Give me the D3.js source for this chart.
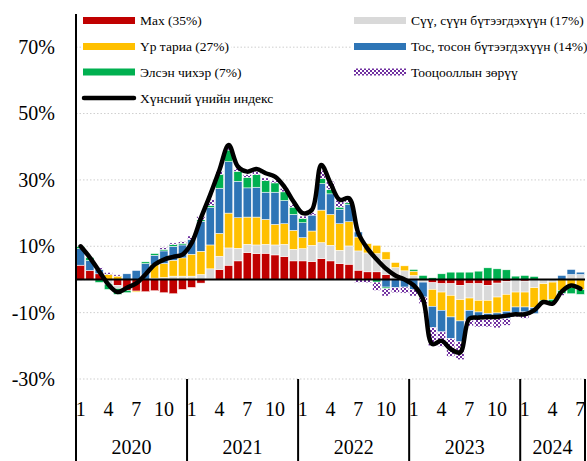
<!DOCTYPE html>
<html><head><meta charset="utf-8">
<script src="https://cdn.jsdelivr.net/npm/d3@7"></script>
<style>
body{margin:0;background:#fff;}
svg{display:block;font-family:"Liberation Serif","Times New Roman","DejaVu Serif",serif;}
</style>
</head><body>
<svg id="c" width="587" height="461"></svg>
<script>
// ---------- DATA ----------
const categories = [
"2020-1","2020-2","2020-3","2020-4","2020-5","2020-6","2020-7","2020-8","2020-9","2020-10","2020-11","2020-12",
"2021-1","2021-2","2021-3","2021-4","2021-5","2021-6","2021-7","2021-8","2021-9","2021-10","2021-11","2021-12",
"2022-1","2022-2","2022-3","2022-4","2022-5","2022-6","2022-7","2022-8","2022-9","2022-10","2022-11","2022-12",
"2023-1","2023-2","2023-3","2023-4","2023-5","2023-6","2023-7","2023-8","2023-9","2023-10","2023-11","2023-12",
"2024-1","2024-2","2024-3","2024-4","2024-5","2024-6","2024-7"];
const years = ["2020","2021","2022","2023","2024"];
const monthTicks = ["1","4","7","10"];
const yTicks = [-30,-10,10,30,50,70];

const meat = [
 4.3, 2.7, 1.7, 0, -1.8, -3.3, -3.5, -3.7, -3.4, -4.0, -4.3, -3.0,
 -2.4, -1.1, 0.3, 3.0, 4.3, 5.6, 8.1, 7.8, 7.9, 7.4, 6.9, 5.6,
 5.6, 5.4, 6.3, 5.6, 4.8, 4.6, 2.8, 2.3, 2.3, 1.5, 0, 0,
 0, 0, -1.0, -1.3, -1.3, -1.8, -1.3, -1.3, -1.8, -1.1, -0.6, 0,
 -0.5, 0, 0, 0, 0, 0, 0];
const milk = [
 0, 0, 0, -1.4, -0.9, 0, 0, 0, 0.4, 0.6, 1.0, 1.0,
 1.0, 1.5, 2.9, 4.0, 5.2, 3.8, 2.5, 2.6, 2.7, 3.0, 3.7, 3.5,
 3.7, 4.9, 4.8, 4.7, 4.0, 5.5, 5.8, 5.7, 5.5, 4.5, 3.6, 2.6,
 1.2, -0.8, -2.0, -2.5, -3.5, -4.3, -4.3, -5.0, -4.5, -4.2, -3.9, -3.8,
 -3.3, -2.5, -1.3, -0.8, 0, 1.5, 1.5];
const grain = [
 0, 0, 0, 1.5, 1.0, 0, -0.3, 0, 4.0, 4.2, 4.8, 5.5,
 6.6, 7.0, 7.2, 6.9, 10.5, 9.2, 8.2, 8.4, 7.5, 6.2, 6.2, 5.7,
 3.3, 4.3, 9.8, 9.3, 8.0, 7.3, 4.2, 2.8, 2.5, 2.3, 1.5, 1.5,
 1.3, 0, -5.1, -5.5, -6.5, -6.4, -3.7, -3.5, -4.0, -4.8, -5.1, -4.5,
 -4.5, -6.0, -5.0, -5.2, -3.3, -2.5, -3.1];
const oil = [
 5.0, 3.0, 1.3, 0, 0, 1.7, 2.7, 4.8, 2.9, 3.8, 4.2, 3.9,
 4.5, 9.0, 11.3, 13.6, 15.5, 11.0, 8.8, 9.0, 8.2, 9.7, 7.0, 4.8,
 4.5, 4.8, 8.0, 6.2, 4.3, 5.2, 1.5, 0, 0, -2.3, -2.5, -2.3,
 -3.0, -4.5, -6.4, -6.5, -6.5, -6.3, -3.0, -2.0, -1.0, -0.7, -2.2, -1.8,
 -1.5, -1.8, 0, 0, 1.2, 1.5, 0.7];
const sugar = [
 0.6, 0.9, -0.9, -1.6, -1.8, -0.7, 0, 0.5, 0.5, 0.5, 0.5, 0.5,
 0, 0.5, 0.6, 4.2, 3.5, 3.0, 3.2, 3.8, 3.5, 2.8, 2.6, 2.2,
 1.3, 0, 1.5, 1.3, 0.7, 0.5, 0, 0, -0.8, -0.5, 0, 0,
 0.5, 1.2, 0.5, 1.7, 2.2, 2.2, 2.2, 2.5, 3.5, 3.2, 2.9, 1.0,
 1.2, 0.9, -1.0, -1.0, -1.0, -1.8, -1.4];
const resid = [
 -0.2, 0, 0.5, 0.6, 0.4, 0, 0, 0, 0, 0.5, 0.5, 0.5,
 1.0, 1.0, 1.8, 0.8, 0.8, 0.8, 0.8, 1.0, 0.8, 0.7, 1.0, 0.8,
 0.7, 0.7, 2.5, 2.5, 2.0, 1.0, -0.9, -1.0, -2.5, -2.2, -1.5, -1.8,
 -2.0, -2.0, -5.5, -4.4, -5.4, -5.4, -1.7, -2.5, -3.0, -3.8, -2.0, -1.2,
 -1.9, 0, 0, -0.3, -0.5, 0, 0];
const foodIndex = [
 10.0, 6.6, 2.5, -1.5, -3.8, -2.5, -1.2, 1.5, 4.5, 6.0, 6.8, 7.5,
 11.0, 18.5, 25.5, 33.0, 40.5, 34.0, 32.5, 33.3, 32.0, 31.0, 28.0, 23.5,
 20.0, 21.0, 34.5, 29.0, 24.0, 24.5, 14.0, 9.3, 6.0, 3.2, 1.2, 0.0,
 -1.8, -6.0, -19.5, -18.5, -21.0, -22.0, -11.8, -11.5, -11.3, -11.3, -10.9, -10.5,
 -10.5, -9.3, -6.8, -7.3, -3.6, -1.8, -2.8];

const seriesNames = {
  meat: "Мах (35%)", milk: "Сүү, сүүн бүтээгдэхүүн (17%)", grain: "Үр тариа (27%)",
  oil: "Тос, тосон бүтээгдэхүүн (14%)", sugar: "Элсэн чихэр (7%)", resid: "Тооцооллын зөрүү"
};
const lineName = "Хүнсний үнийн индекс";

// ---------- CHART ----------
(function(){
const FONT = "Liberation Serif, Times New Roman, DejaVu Serif, serif";
const svg = d3.select("#c");
const keys = ["meat","milk","grain","oil","sugar","resid"];
const src = {meat, milk, grain, oil, sugar, resid};
const table = categories.map((c,i)=>{ const r={cat:c}; keys.forEach(k=>r[k]=src[k][i]); return r; });

const colors = {meat:"#C00000", milk:"#D9D9D9", grain:"#FFC000", oil:"#2E75B6", sugar:"#00B050", resid:"url(#chk)"};

const defs = svg.append("defs");
const pat = defs.append("pattern").attr("id","chk").attr("width",4).attr("height",4).attr("patternUnits","userSpaceOnUse");
pat.append("rect").attr("width",4).attr("height",4).attr("fill","#fff");
pat.append("rect").attr("x",0).attr("y",0).attr("width",2).attr("height",2).attr("fill","#7030A0");
pat.append("rect").attr("x",2).attr("y",2).attr("width",2).attr("height",2).attr("fill","#7030A0");

const pL = 76, pR = 585, pT = 14, pB = 379;
const x = d3.scaleBand().domain(categories).range([pL,pR]).paddingInner(0.12).paddingOuter(0.06);
const y = d3.scaleLinear().domain([-30,80]).range([pB,pT]);

// gridlines
svg.append("g").selectAll("line").data(yTicks).join("line")
  .attr("x1",pL).attr("x2",pR).attr("y1",d=>y(d)).attr("y2",d=>y(d))
  .attr("stroke","#cfcfcf").attr("stroke-width",1).attr("stroke-dasharray","1.5,2");

// bars
const stack = d3.stack().keys(keys).offset(d3.stackOffsetDiverging);
const layers = stack(table);
svg.append("g").selectAll("g").data(layers).join("g")
  .attr("fill",d=>colors[d.key])
  .selectAll("rect").data(d=>d).join("rect")
  .attr("x",d=>x(d.data.cat)).attr("width",x.bandwidth())
  .attr("y",d=>y(Math.max(d[0],d[1]))).attr("height",d=>Math.abs(y(d[0])-y(d[1])))
  .attr("stroke","#fff").attr("stroke-width",0.5);

// zero line
svg.append("line").attr("x1",pL).attr("x2",pR).attr("y1",y(0)).attr("y2",y(0))
  .attr("stroke","#000").attr("stroke-width",2);

// index line
const line = d3.line().x((d,i)=>x(categories[i])+x.bandwidth()/2).y(d=>y(d)).curve(d3.curveCatmullRom.alpha(0.5));
svg.append("path").datum(foodIndex).attr("d",line).attr("fill","none")
  .attr("stroke","#000").attr("stroke-width",4.5).attr("stroke-linejoin","round").attr("stroke-linecap","round");

// y axis
const yAxis = svg.append("g").attr("transform",`translate(${pL},0)`)
  .call(d3.axisLeft(y).tickValues(yTicks).tickFormat(d=>d+"%").tickSize(0).tickPadding(21));
yAxis.select(".domain").remove();
yAxis.attr("font-family",FONT).attr("font-size",20);
yAxis.selectAll("text").attr("font-size",20).attr("font-family",FONT).attr("fill","#000");
svg.append("line").attr("x1",pL).attr("x2",pL).attr("y1",pT).attr("y2",461).attr("stroke","#000").attr("stroke-width",2);

// x axis (months)
const xAxis = svg.append("g").attr("transform",`translate(0,${pB})`)
  .call(d3.axisBottom(x).tickValues(categories.filter(c=>monthTicks.includes(c.split("-")[1])))
    .tickFormat(c=>c.split("-")[1]).tickSize(0).tickPadding(23));
xAxis.select(".domain").remove();
xAxis.attr("font-family",FONT).attr("font-size",20);
xAxis.selectAll("text").attr("font-size",20).attr("font-family",FONT).attr("fill","#000");

// year groups
years.forEach(yr=>{
  const cs = categories.filter(c=>c.startsWith(yr+"-"));
  const x0 = x(cs[0]) - x.step()*x.paddingInner()/2;
  const x1 = x(cs[cs.length-1]) + x.bandwidth() + x.step()*x.paddingInner()/2;
  svg.append("text").attr("x",(x0+x1)/2).attr("y",454).attr("text-anchor","middle")
    .attr("font-family",FONT).attr("font-size",20).text(yr);
  svg.append("line").attr("x1",x1).attr("x2",x1).attr("y1",pB).attr("y2",461).attr("stroke","#000").attr("stroke-width",2);
});

// legend
const legendItems = [
  {k:"meat", x:83, y:20.5}, {k:"milk", x:354, y:20.5},
  {k:"grain", x:83, y:46.5}, {k:"oil", x:354, y:46.5},
  {k:"sugar", x:83, y:72}, {k:"resid", x:354, y:72},
  {k:"line", x:83, y:98}
];
const lg = svg.append("g");
legendItems.forEach(it=>{
  const g = lg.append("g");
  const bg = g.append("rect").attr("fill","#fff");
  if(it.k==="line"){
    g.append("line").attr("x1",it.x+1).attr("x2",it.x+51).attr("y1",it.y).attr("y2",it.y)
      .attr("stroke","#000").attr("stroke-width",4.5).attr("stroke-linecap","round");
  } else {
    g.append("rect").attr("x",it.x).attr("y",it.y-3.5).attr("width",52).attr("height",7).attr("fill",colors[it.k]);
  }
  const t = g.append("text").attr("x",it.x+57).attr("y",it.y).attr("dy","0.35em")
    .attr("font-family",FONT).attr("font-size",13.5).attr("fill","#000")
    .text(it.k==="line"?lineName:seriesNames[it.k]);
  const w = t.node().getComputedTextLength();
  bg.attr("x",it.x-2).attr("y",it.y-9).attr("width",w+61).attr("height",18);
});
})();
</script>
</body></html>
